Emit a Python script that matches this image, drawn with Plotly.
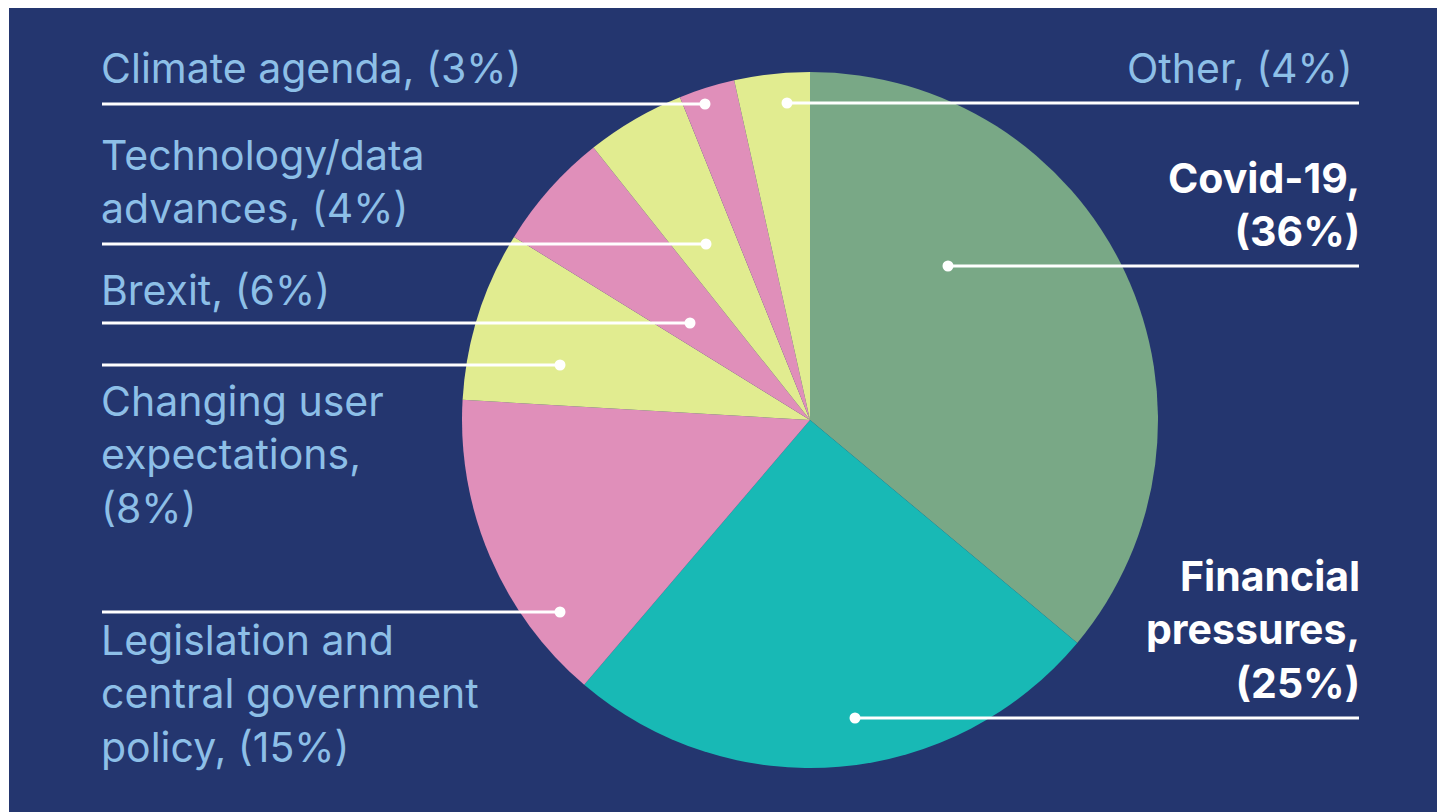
import plotly.graph_objects as go

W, H = 1445, 812
OFF = 8  # page body margin: screen coordinate = figure coordinate + 8

# ---- data ----
categories = ["Covid-19", "Financial pressures", "Legislation and central government policy",
              "Changing user expectations", "Brexit", "Technology/data advances",
              "Climate agenda", "Other"]
shares = [36.1, 25.2, 14.7, 7.9, 5.5, 4.6, 2.6, 3.5]
pct_labels = ["36%", "25%", "15%", "8%", "6%", "4%", "3%", "4%"]

slice_colors = ["#79a886", "#18b9b5", "#e08fba", "#e1ec90",
                "#e08fba", "#e1ec90", "#e08fba", "#e1ec90"]

NAVY = "#24366f"
LIGHT = "#8dbfe7"
WHITE = "#ffffff"

# ---- label layout (screen pixel positions) ----
label_layout = [
    dict(text="Covid-19,<br>(36%)", side="right", ly=266, dot=948, ty=258, bold=True, tx=1362),
    dict(text="Financial<br>pressures,<br>(25%)", side="right", ly=718, dot=855, ty=710, bold=True, tx=1362),
    dict(text="Legislation and<br>central government<br>policy, (15%)", side="left", ly=612, dot=560, ty=613, bold=False, below=True),
    dict(text="Changing user<br>expectations,<br>(8%)", side="left", ly=365, dot=560, ty=374, bold=False, below=True),
    dict(text="Brexit, (6%)", side="left", ly=323, dot=690, ty=317, bold=False),
    dict(text="Technology/data<br>advances, (4%)", side="left", ly=244, dot=706, ty=235, bold=False),
    dict(text="Climate agenda, (3%)", side="left", ly=104, dot=705, ty=95, bold=False),
    dict(text="Other, (4%)", side="right", ly=103, dot=787, ty=95, bold=False, tx=1355),
]

LINE_LEFT = 102
LINE_RIGHT = 1359
TEXT_LEFT = 99
FONT = "Inter, Noto Sans, sans-serif"
FS = 41


def px(x):
    return (x - OFF) / W


def py(y):
    return 1 - (y - OFF) / H


fig = go.Figure()

fig.add_trace(go.Pie(
    labels=categories,
    values=shares,
    sort=False,
    direction="clockwise",
    rotation=0,
    textinfo="none",
    hoverinfo="label+percent",
    marker=dict(colors=slice_colors, line=dict(width=0)),
    domain=dict(x=[px(462), px(1158)], y=[py(768), py(72)]),
    showlegend=False,
))

shapes = [
    dict(type="rect", xref="paper", yref="paper", x0=0, x1=px(9), y0=0, y1=1,
         fillcolor="white", line=dict(width=0), layer="below"),
]
annotations = []
R = 5.5
for lab in label_layout:
    if lab["side"] == "left":
        x0, x1 = LINE_LEFT, lab["dot"]
    else:
        x0, x1 = lab["dot"], LINE_RIGHT
    shapes.append(dict(type="line", xref="paper", yref="paper",
                       x0=px(x0), x1=px(x1), y0=py(lab["ly"]), y1=py(lab["ly"]),
                       line=dict(color=WHITE, width=3), layer="above"))
    shapes.append(dict(type="circle", xref="paper", yref="paper",
                       x0=px(lab["dot"] - R), x1=px(lab["dot"] + R),
                       y0=py(lab["ly"] + R), y1=py(lab["ly"] - R),
                       fillcolor=WHITE, line=dict(width=0), layer="above"))
    txt = lab["text"]
    color = LIGHT
    if lab["bold"]:
        txt = "<b>" + txt.replace("<br>", "</b><br><b>") + "</b>"
        color = WHITE
    if lab["side"] == "left":
        ax, xanchor, align = TEXT_LEFT, "left", "left"
    else:
        ax, xanchor, align = lab.get("tx", LINE_RIGHT), "right", "right"
    annotations.append(dict(
        text=txt, xref="paper", yref="paper", x=px(ax), y=py(lab["ty"]),
        xanchor=xanchor, yanchor="top" if lab.get("below") else "bottom",
        align=align, showarrow=False,
        font=dict(family=FONT, size=FS, color=color),
    ))

fig.update_layout(
    width=W, height=H,
    margin=dict(l=0, r=0, t=0, b=0),
    paper_bgcolor=NAVY,
    plot_bgcolor=NAVY,
    shapes=shapes,
    annotations=annotations,
)

fig.write_html("out.html")
